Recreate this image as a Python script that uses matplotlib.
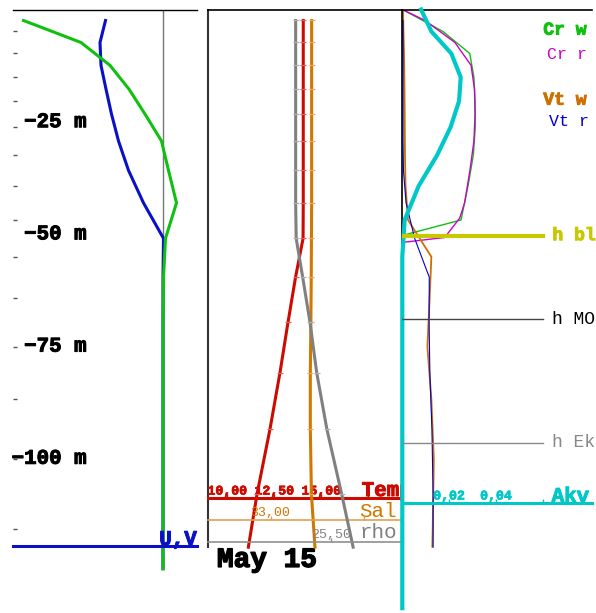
import matplotlib.pyplot as plt
import matplotlib.patheffects as pe

plt.rcParams['font.family'] = ['Liberation Mono', 'DejaVu Sans']

# --- NIVEAUX (m) ---
lev_w = [0, 4.9, 9.8, 15.1, 20.4, 26.2, 32.4, 39.3, 46.9, 55.1, 64.2, 75.1, 86.8, 100.2, 115.8, 133.4]
lev_r = [2.45, 7.35, 12.45, 17.75, 23.3, 29.3, 35.85, 43.1, 51.0, 59.65, 69.65, 80.95, 93.5, 108.0, 124.6]
depth_labels = [25, 50, 75, 100]

# --- PANNEAU 1 : courants ---
u_vel = [-0.115, -0.126, -0.124, -0.114, -0.103, -0.089, -0.069, -0.039, 0.001, 0, 0, 0, 0, 0, 0]
v_vel = [-0.279, -0.164, -0.106, -0.068, -0.036, -0.003, 0.011, 0.027, 0.005, 0.001, 0, 0, 0, 0, 0]

# --- PANNEAU 2 : T, S, rho ---
prof_d = [2.45, 7.35, 12.45, 17.75, 23.3, 29.3, 35.85, 43.1, 51.0, 59.65, 69.65, 80.95, 93.5, 108.0, 119.8]
temp = [14.03, 14.03, 14.03, 14.03, 14.03, 14.03, 14.03, 14.03, 14.02, 13.62, 13.22, 12.79, 12.26, 11.57, 11.11]
sal = [33.220, 33.220, 33.220, 33.220, 33.220, 33.220, 33.220, 33.220, 33.219, 33.218, 33.216, 33.213, 33.213, 33.219, 33.238]
rho = [25.365, 25.365, 25.365, 25.365, 25.365, 25.365, 25.365, 25.365, 25.367, 25.392, 25.420, 25.446, 25.485, 25.542, 25.586]
temp_ticks = [10, 12.5, 15, 17.5]
temp_labels = ['10,00', '12,50', '15,00', '']
sal_ticks = [33.0, 33.5]
sal_labels = ['33,00', '']
rho_ticks = [25.5]
rho_labels = ['25,50']

# --- PANNEAU 3 : Akv, Courant, Vt ---
akv = [0.0080, 0.0124, 0.0209, 0.0249, 0.0242, 0.0206, 0.0149, 0.0070, 0.0010, 0, 0, 0, 0, 0, 0, 0]
akv_ticks = [0.02, 0.04, 0.06]
akv_labels = ['0,02', '0,04', '']
crw_d = [0, 4.9, 9.8, 15.1, 20.4, 26.2, 32.4, 39.3, 46.9, 50.3]
crw = [0.001, 0.214, 0.355, 0.377, 0.383, 0.384, 0.374, 0.346, 0.309, 0.004]
crr_d = [0, 2.45, 7.35, 12.45, 17.75, 23.3, 29.3, 35.85, 43.1, 46.5, 50.8, 51.9]
crr = [0, 0.120, 0.277, 0.362, 0.380, 0.383, 0.377, 0.356, 0.328, 0.302, 0.223, 0.0]
vtw_d = [0, 4.9, 9.8, 15.1, 20.4, 26.2, 32.4, 39.3, 46.9, 55.1, 64.2, 75.1, 86.8, 100.2, 115.8, 119.7]
vtw = [0.004, 0.006, 0.009, 0.011, 0.012, 0.013, 0.014, 0.017, 0.030, 0.153, 0.144, 0.132, 0.153, 0.166, 0.160, 0.158]
vtr_d = [2.45, 7.35, 12.45, 17.75, 23.3, 29.3, 35.85, 43.1, 51.0, 59.65, 69.65, 80.95, 93.5, 108.0, 119.8]
vtr = [0.004, 0.004, 0.004, 0.004, 0.004, 0.004, 0.006, 0.020, 0.065, 0.142, 0.141, 0.145, 0.156, 0.162, 0.162]
h_bl, h_mo, h_ek = 50.4, 69.0, 96.5

# --- MISE EN PAGE (pixels) ---
W, H = 596, 613
TOP, BOT = 9.5, 612.0
PXM = 4.488  # pixels par metre
YMIN = -(BOT - TOP) / PXM


def rect(x0, x1):
    return [x0 / W, (H - BOT) / H, (x1 - x0) / W, (BOT - TOP) / H]


def neg(vals):
    return [-v for v in vals]


def gras(color, w=0.7):
    # epaissit un peu le gras de Liberation Mono
    return [pe.withStroke(linewidth=w, foreground=color)]


fig = plt.figure(figsize=(W / 100, H / 100), dpi=100)

# ---------- panneau 1 ----------
blue, green = '#0a10c8', '#10c010'
ax1 = fig.add_axes(rect(13, 197))
ax1.set_xlim(-0.3, 0.068)
ax1.set_ylim(YMIN, 0)
ax1.patch.set_visible(False)
ax1.set_xticks([])
ax1.set_yticks(neg(lev_w[1:15]))
ax1.tick_params(axis='y', direction='in', length=3, width=1, color='#555', labelleft=False)
for s in ['left', 'right']:
    ax1.spines[s].set_visible(False)
ax1.spines['top'].set_linewidth(1)
ax1.spines['bottom'].set_position(('data', -119.5))
ax1.spines['bottom'].set_color(blue)
ax1.spines['bottom'].set_linewidth(2.2)
ax1.plot([0, 0], [0, -119.5], color='#777', lw=1)
ax1.plot(u_vel, neg(lev_r), color=blue, lw=2.2)
ax1.plot(v_vel, neg(lev_r), color=green, lw=2.2)
tr1 = ax1.get_yaxis_transform()
for d in depth_labels:
    ax1.text(0.40, -d, f'−{d} m', transform=tr1, ha='right', va='center',
             fontsize=15, fontweight='bold', path_effects=gras('black'))
ax1.text(0.795, -119.3, 'U,V', transform=tr1, color=blue, fontsize=15,
         fontweight='bold', va='baseline', path_effects=gras(blue))

# ---------- panneau 2 ----------
red, orange, grey = '#cc0a00', '#d07800', '#808080'
ax2 = fig.add_axes(rect(208, 402.3))
ax2.set_xlim(0, 1)
ax2.set_ylim(YMIN, 0)
ax2.patch.set_visible(False)
ax2.set_xticks([])
ax2.set_yticks([])
for s in ['right', 'bottom']:
    ax2.spines[s].set_visible(False)
ax2.spines['top'].set_linewidth(1.2)
ax2.spines['left'].set_color('#333')
ax2.spines['left'].set_linewidth(1.5)
ax2.spines['left'].set_bounds(-119.8, 0)
ax2.text(0.046, -124.2, 'May 15', transform=ax2.get_yaxis_transform(),
         fontsize=20, fontweight='bold', va='baseline', path_effects=gras('black', 1.0))


def axe_profil(parent, xlim, ydepth, color, lw, ticks, labels, weight):
    ax = parent.twiny()
    ax.set_xlim(*xlim)
    ax.set_ylim(YMIN, 0)
    for s in ['left', 'right', 'bottom']:
        ax.spines[s].set_visible(False)
    ax.spines['top'].set_position(('data', -ydepth))
    ax.spines['top'].set_color(color)
    ax.spines['top'].set_linewidth(lw)
    ax.set_xticks(ticks, labels, fontweight=weight)
    ax.tick_params(axis='x', direction='out', length=3, width=1, colors=color,
                   labelsize=9.5, pad=-2.5)
    return ax


axT = axe_profil(ax2, (8.963, 19.298), 108.9, red, 2.2, temp_ticks, temp_labels, 'bold')
axS = axe_profil(ax2, (32.663, 33.7075), 113.7, '#e0a050', 1.2, sal_ticks, sal_labels, 'normal')
axR = axe_profil(ax2, (25.028, 25.775), 118.6, '#909090', 1.2, rho_ticks, rho_labels, 'normal')
axS.tick_params(axis='x', labelcolor=orange)
axR.tick_params(axis='x', labelcolor=grey)
for lbl in axT.get_xticklabels():
    lbl.set_path_effects(gras(red, 0.5))

mk = dict(marker='_', ms=5, mew=0.9, markevery=slice(0, 14))
axR.plot(rho, neg(prof_d), color=grey, lw=2.2, mec='#b0b0b0', **mk)
axT.plot(temp, neg(prof_d), color=red, lw=2.2, mec='#e06060', **mk)
axS.plot(sal, neg(prof_d), color=orange, lw=2.2, mec='#e8a858', **mk)

axT.text(0.791, -108.4, 'Temp', transform=axT.get_yaxis_transform(), color=red,
         fontsize=15, fontweight='bold', va='baseline', clip_on=True,
         path_effects=gras(red))
axS.text(0.779, -113.0, 'Sal', transform=axS.get_yaxis_transform(), color=orange,
         fontsize=15, va='baseline', clip_on=True)
axR.text(0.779, -117.8, 'rho', transform=axR.get_yaxis_transform(), color=grey,
         fontsize=15, va='baseline', clip_on=True)

# ---------- panneau 3 ----------
cyan = '#00c8c8'
ax3 = fig.add_axes(rect(402.3, 592.3))
ax3.set_xlim(0, 1)
ax3.set_ylim(YMIN, 0)
ax3.patch.set_visible(False)
ax3.set_xticks([])
ax3.set_yticks([])
for s in ['right', 'bottom']:
    ax3.spines[s].set_visible(False)
ax3.spines['top'].set_linewidth(1.2)
ax3.spines['left'].set_linewidth(1.2)
ax3.spines['left'].set_bounds(-119.8, 0)
ax3.plot(crw, neg(crw_d), color='#10c010', lw=1)
ax3.plot(crr, neg(crr_d), color='#cc00cc', lw=1)
ax3.plot(vtw, neg(vtw_d), color='#cc7000', lw=1.3)
ax3.plot(vtr, neg(vtr_d), color='#0000cc', lw=0.8)
tr3 = ax3.get_yaxis_transform()
ax3.text(0.742, -4.6, 'Cr w', transform=tr3, color='#10c010', fontsize=13,
         fontweight='bold', va='center', path_effects=gras('#10c010'))
ax3.text(0.763, -10.1, 'Cr r', transform=tr3, color='#cc00cc', fontsize=12, va='center')
ax3.text(0.742, -20.2, 'Vt w', transform=tr3, color='#cc7000', fontsize=13,
         fontweight='bold', va='center', path_effects=gras('#cc7000'))
ax3.text(0.772, -25.0, 'Vt r', transform=tr3, color='#0000cc', fontsize=12, va='center')

axA = ax3.twiny()
axA.set_xlim(0, 0.081)
axA.set_ylim(YMIN, 0)
for s in ['left', 'right', 'bottom']:
    axA.spines[s].set_visible(False)
axA.spines['top'].set_position(('data', -110.0))
axA.spines['top'].set_color(cyan)
axA.spines['top'].set_linewidth(2.2)
axA.set_xticks(akv_ticks, akv_labels, fontweight='bold')
axA.tick_params(axis='x', direction='out', length=3, width=1, colors=cyan,
                labelsize=9.5, pad=-2.5)
for lbl in axA.get_xticklabels():
    lbl.set_path_effects(gras(cyan, 0.5))
axA.plot(akv, neg(lev_w), color=cyan, lw=3, clip_on=False)
axA.axhline(-h_bl, xmin=0, xmax=0.742, color='#c8c800', lw=3)
axA.axhline(-h_mo, xmin=0, xmax=0.742, color='#444', lw=1)
axA.axhline(-h_ek, xmin=0, xmax=0.742, color='#888', lw=1)
trA = axA.get_yaxis_transform()
axA.text(0.786, -109.7, 'Akv', transform=trA, color=cyan, fontsize=15,
         fontweight='bold', va='baseline', path_effects=gras(cyan))
axA.text(0.79, -h_bl, 'h bl', transform=trA, color='#c8c800', fontsize=13,
         fontweight='bold', va='center', path_effects=gras('#c8c800'))
axA.text(0.79, -h_mo, 'h MO', transform=trA, color='black', fontsize=13, va='center')
axA.text(0.79, -h_ek, 'h Ek', transform=trA, color='#888', fontsize=13, va='center')

fig.savefig('out.png', dpi=100, facecolor='white')
